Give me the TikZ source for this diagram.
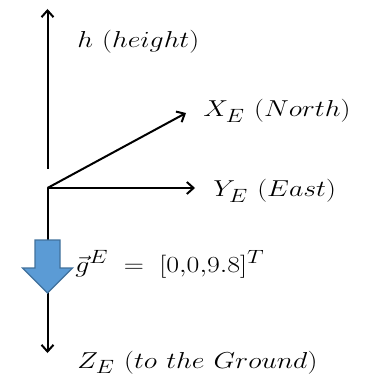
\documentclass[tikz,border=0pt]{standalone}
\usepackage{xcolor}
\usepackage{graphicx}
\usepackage{tikz}
\usetikzlibrary{arrows.meta}
\definecolor{celeste}{HTML}{5B9BD5}
\definecolor{bordeazul}{HTML}{41719C}
\newcommand{\ancho}[1]{\scalebox{1.21}[1]{#1}}

\begin{document}
\begin{tikzpicture}[
  x=0.75pt, y=-0.75pt,
  font=\fontsize{19}{22}\selectfont,
  eje/.style={-{Straight Barb[length=5pt,width=9pt]}, line width=1.5pt, black},
  etiqueta/.style={anchor=base west, inner sep=0pt}
]
  \useasboundingbox (0,0) rectangle (367,377);
  % origen y extremos de los ejes
  \coordinate (o)  at (47.5,188);
  \coordinate (h0) at (47.5,169);
  \coordinate (h1) at (47.5,9);
  \coordinate (x1) at (186,113);
  \coordinate (y1) at (195,188);
  \coordinate (z1) at (47.5,353);
  \draw[eje] (h0) -- (h1);
  \draw[eje] (o) -- (x1);
  \draw[eje] (o) -- (y1);
  \draw[eje] (o) -- (z1);
  % flecha de gravedad
  \draw[fill=celeste, draw=bordeazul, line width=0.8pt]
    (35,240) -- (60,240) -- (60,268) -- (72.5,268) -- (47.5,293)
    -- (22.5,268) -- (35,268) -- cycle;
  % textos
  \node[etiqueta] (th) at (77,48)  {\ancho{$h\ (height)$}};
  \node[etiqueta] (tx) at (203,117) {\ancho{$X_E\ (North)$}};
  \node[etiqueta] (ty) at (213,197) {\ancho{$Y_E\ (East)$}};
  \node[etiqueta] (tg) at (75,272) {\ancho{$\vec{g}^{E}\;=\;[0{,}0{,}9.8]^{T}$}};
  \node[etiqueta] (tz) at (77,368) {\ancho{$Z_E\ (to\ the\ Ground)$}};
\end{tikzpicture}
\end{document}
